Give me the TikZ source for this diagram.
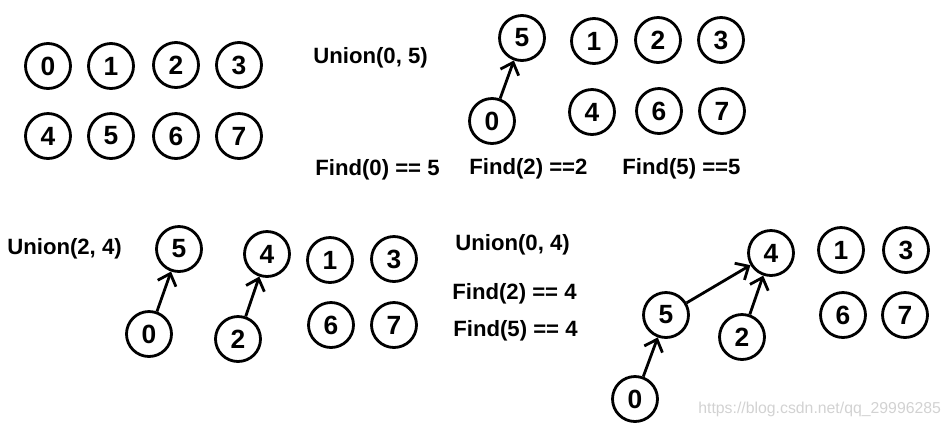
\documentclass[tikz,border=0pt]{standalone}
\usepackage{fontspec}
\setmainfont{Liberation Sans}
\usetikzlibrary{arrows.meta}

\begin{document}
\begin{tikzpicture}[x=0.02cm,y=-0.02cm,
        cercle/.style={circle, draw, line width=1.6pt, minimum size=0.9cm, inner sep=0pt, font=\fontsize{15}{17}\selectfont\bfseries},%noeuds ronds
        texte/.style={anchor=west, inner sep=0pt, font=\fontsize{12.6}{15}\selectfont\bfseries},%etiquettes
        fleche/.style={line width=1.6pt, -{Straight Barb[length=6pt,width=11pt,line width=1.6pt]}}]%liens vers le parent
    \useasboundingbox (0,0) rectangle (952,427);

    % etat initial
    \node[cercle] (a0) at (48,66) {0};
    \node[cercle] (a1) at (111,66) {1};
    \node[cercle] (a2) at (176,65) {2};
    \node[cercle] (a3) at (239,65) {3};
    \node[cercle] (a4) at (48,136) {4};
    \node[cercle] (a5) at (111,136) {5};
    \node[cercle] (a6) at (176,136) {6};
    \node[cercle] (a7) at (239,136) {7};

    % Union(0,5)
    \node[texte] (u05) at (313,58) {Union(0, 5)};
    \node[cercle] (b5) at (522,38) {5};
    \node[cercle] (b0) at (492,121) {0};
    \node[cercle] (b1) at (594,41) {1};
    \node[cercle] (b2) at (658,40) {2};
    \node[cercle] (b3) at (721,40) {3};
    \node[cercle] (b4) at (592,112) {4};
    \node[cercle] (b6) at (659,111) {6};
    \node[cercle] (b7) at (722,111) {7};
    \draw[fleche] (b0) -- (b5);
    \node[texte] (f0) at (315,170) {Find(0) == 5};
    \node[texte] (f2) at (469,169) {Find(2) ==2};
    \node[texte] (f5) at (622,169) {Find(5) ==5};

    % Union(2,4)
    \node[texte] (u24) at (7,249) {Union(2, 4)};
    \node[cercle] (c5) at (179,249) {5};
    \node[cercle] (c0) at (149,334) {0};
    \node[cercle] (c4) at (267,254) {4};
    \node[cercle] (c2) at (238,339) {2};
    \node[cercle] (c1) at (330,260) {1};
    \node[cercle] (c3) at (394,259) {3};
    \node[cercle] (c6) at (331,325) {6};
    \node[cercle] (c7) at (394,325) {7};
    \draw[fleche] (c0) -- (c5);
    \draw[fleche] (c2) -- (c4);

    % Union(0,4)
    \node[texte] (u04) at (455,245) {Union(0, 4)};
    \node[texte] (g2) at (452,294) {Find(2) == 4};
    \node[texte] (g5) at (453,331) {Find(5) == 4};
    \node[cercle] (d4) at (771,253) {4};
    \node[cercle] (d1) at (841,250) {1};
    \node[cercle] (d3) at (906,250) {3};
    \node[cercle] (d6) at (843,315) {6};
    \node[cercle] (d7) at (905,315) {7};
    \node[cercle] (d5) at (666,315) {5};
    \node[cercle] (d2) at (742,337) {2};
    \node[cercle] (d0) at (635,399) {0};
    \draw[fleche] (d5) -- (d4);
    \draw[fleche] (d2) -- (d4);
    \draw[fleche] (d0) -- (d5);

    \node[anchor=west, inner sep=0pt, text=gray!35, font=\fontsize{9}{11}\selectfont] (wm) at (698,409) {https://blog.csdn.net/qq\_29996285};
\end{tikzpicture}
\end{document}
